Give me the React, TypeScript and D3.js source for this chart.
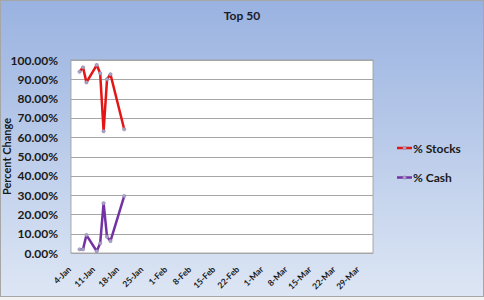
import React from "react";
import * as d3 from "d3";

const dates = ["2010-01-06", "2010-01-07", "2010-01-08", "2010-01-11", "2010-01-12", "2010-01-13", "2010-01-14", "2010-01-15", "2010-01-19"];
const stocks = [0.939, 0.962, 0.884, 0.974, 0.931, 0.631, 0.900, 0.926, 0.641];
const cash = [0.019, 0.019, 0.093, 0.009, 0.050, 0.258, 0.084, 0.062, 0.295];
const seriesNames = ["% Stocks", "% Cash"];
const seriesColors = ["#e41515", "#7332a4"];
const yTicks = [0, 0.1, 0.2, 0.3, 0.4, 0.5, 0.6, 0.7, 0.8, 0.9, 1.0];
const xTickDates = ["2010-01-04", "2010-01-11", "2010-01-18", "2010-01-25", "2010-02-01", "2010-02-08", "2010-02-15", "2010-02-22", "2010-03-01", "2010-03-08", "2010-03-15", "2010-03-22", "2010-03-29"];
const title = "Top 50";
const yTitle = "Percent Change";

const W = 484, H = 300;
const PL = 71, PR = 373, PT = 60, PB = 253;
const parse = d3.timeParse("%Y-%m-%d");
const font = "Lato, 'Open Sans', sans-serif";

export default function App() {
  const x = d3.scaleTime()
    .domain([new Date(2010, 0, 3, 12), new Date(2010, 3, 1, 12)])
    .range([PL, PR]);
  const y = d3.scaleLinear().domain([0, 1]).range([PB, PT]);
  const fmtY = (v: number) => (v * 100).toFixed(2) + "%";
  const fmtX = d3.timeFormat("%-d-%b");
  const pts = dates.map((d) => parse(d) as Date);
  const series = [stocks, cash];
  const line = d3.line<[Date, number]>().x((d) => x(d[0])).y((d) => y(d[1]));

  return (
    <svg width={W} height={H} style={{ position: "absolute", left: 0, top: 0 }} fontFamily={font}>
      <defs>
        <linearGradient id="bg" x1="0" y1="0" x2="0" y2="1">
          <stop offset="0" stopColor="#99b2e0" />
          <stop offset="1" stopColor="#dde6f4" />
        </linearGradient>
      </defs>
      <rect x={0} y={0} width={W} height={H} fill="#f2f2f2" />
      <rect x={0.5} y={0.5} width={W - 1} height={296} fill="url(#bg)" stroke="#a6a6a6" />
      <text x={242} y={19.5} textAnchor="middle" fontSize={12} fontWeight="bold" fill="#1a1a2a">{title}</text>
      <rect x={PL} y={PT} width={PR - PL} height={PB - PT} fill="#ffffff" stroke="#9a9a9a" strokeWidth={0.8} />
      {yTicks.map((t) => (
        <g key={t}>
          <line x1={PL} x2={PR} y1={Math.round(y(t)) + 0.5} y2={Math.round(y(t)) + 0.5} stroke="#a6a6a6" strokeWidth={1} />
          <text x={58} y={y(t) + 4.5} textAnchor="end" fontSize={12} fontWeight="bold" fill="#1a1a1a">{fmtY(t)}</text>
        </g>
      ))}
      <text transform={`translate(11,${(PT + PB) / 2}) rotate(-90)`} textAnchor="middle" fontSize={11} fontWeight="bold" fill="#1a1a1a">{yTitle}</text>
      {xTickDates.map((d) => {
        const dt = parse(d) as Date;
        const xx = x(dt);
        return (
          <text key={d} transform={`translate(${xx - 1},${PB + 17}) rotate(-45)`} textAnchor="end" fontSize={8.5} fontWeight="bold" fill="#1a1a1a">{fmtX(dt)}</text>
        );
      })}
      {series.map((vals, i) => {
        const data: [Date, number][] = pts.map((p, j) => [p, vals[j]]);
        return (
          <g key={i}>
            <path d={line(data) || ""} fill="none" stroke={seriesColors[i]} strokeWidth={2.5} strokeLinejoin="round" />
            {data.map((d, j) => (
              <circle key={j} cx={x(d[0])} cy={y(d[1])} r={1.7} fill="#a9a3c4" stroke="#8a84a8" strokeWidth={0.5} />
            ))}
          </g>
        );
      })}
      {seriesNames.map((n, i) => {
        const ly = 148 + i * 29.5;
        return (
          <g key={n}>
            <line x1={397} x2={412} y1={ly} y2={ly} stroke={seriesColors[i]} strokeWidth={2.5} />
            <circle cx={404.5} cy={ly} r={1.7} fill="#a9a3c4" stroke="#8a84a8" strokeWidth={0.5} />
            <text x={413} y={ly + 4.5} fontSize={12} fontWeight="bold" fill="#1a1a1a">{n}</text>
          </g>
        );
      })}
    </svg>
  );
}
